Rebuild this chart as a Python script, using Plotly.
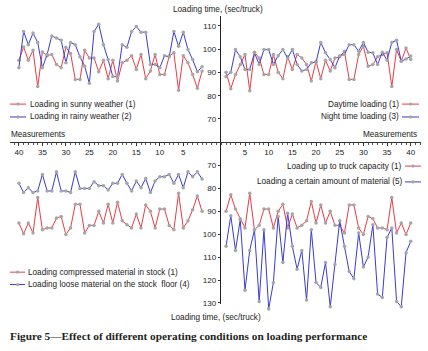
import plotly.graph_objects as go

W, H = 428, 351

# ---------------- data ----------------
measurements = list(range(1, 41))

sunny = [90.6, 83.2, 89.1, 94.1, 97.2, 82.3, 98.4, 97.0, 89.1, 89.1,
         97.7, 90.6, 87.3, 97.7, 91.3, 97.2, 95.2, 94.1, 86.3, 95.2,
         87.3, 95.2, 90.3, 96.2, 96.2, 99.5, 87.0, 87.0, 98.1, 100.8,
         92.0, 93.4, 97.7, 97.2, 98.8, 83.9, 99.5, 95.2, 100.9, 95.2]
rainy = [92.4, 90.3, 95.5, 99.8, 107.3, 101.2, 107.6, 96.7, 97.2, 92.0,
         93.4, 93.4, 107.3, 107.3, 109.7, 107.6, 100.8, 101.9, 88.2, 88.2,
         95.5, 101.9, 110.7, 107.6, 85.3, 92.7, 96.7, 101.9, 102.9, 94.1,
         103.8, 104.8, 105.7, 97.7, 92.0, 102.9, 106.9, 101.9, 107.6, 92.0]
daytime = [90.1, 83.0, 89.1, 93.4, 97.7, 82.1, 98.7, 96.2, 89.1, 89.1,
           97.7, 90.1, 87.3, 96.7, 91.3, 97.7, 96.2, 93.4, 86.3, 94.8,
           87.3, 95.2, 90.6, 96.2, 96.7, 99.1, 87.0, 87.0, 97.7, 101.2,
           92.7, 93.4, 96.7, 97.7, 98.4, 83.9, 99.8, 94.8, 100.5, 95.5]
night = [88.2, 90.1, 99.8, 96.7, 91.3, 91.3, 98.4, 93.4, 99.8, 99.8,
         93.4, 97.2, 99.8, 96.2, 99.8, 93.4, 90.6, 91.3, 94.1, 94.4,
         102.9, 98.4, 95.5, 92.0, 97.2, 97.7, 101.9, 101.9, 99.1, 102.9,
         98.7, 98.4, 93.4, 98.7, 95.2, 102.9, 103.8, 94.8, 95.8, 97.0]
compressed = [90.1, 83.4, 89.4, 94.2, 97.3, 82.2, 98.1, 96.2, 89.1, 89.1,
              97.3, 90.1, 87.3, 97.3, 91.3, 97.3, 95.9, 94.2, 86.1, 95.2,
              87.0, 95.2, 90.1, 96.2, 96.2, 99.5, 87.0, 87.0, 97.3, 100.2,
              92.3, 93.0, 97.3, 97.3, 98.1, 84.1, 99.5, 95.2, 99.9, 95.2]
loose = [76.0, 72.9, 75.0, 72.9, 79.8, 74.0, 77.9, 74.0, 75.0, 75.0,
         76.9, 81.9, 75.8, 79.8, 76.9, 81.2, 77.9, 74.0, 77.9, 77.9,
         80.8, 78.9, 78.9, 77.2, 80.1, 80.1, 80.1, 72.9, 81.9, 81.2,
         81.2, 72.9, 81.2, 81.2, 74.0, 81.2, 81.9, 79.8, 81.9, 77.9]
capacity = [90.1, 82.9, 89.1, 93.3, 97.3, 82.2, 98.1, 96.2, 89.1, 89.1,
            97.3, 90.1, 87.0, 97.3, 91.3, 97.3, 96.2, 94.2, 85.8, 95.2,
            87.3, 95.2, 90.1, 96.2, 96.2, 99.5, 87.3, 87.3, 97.3, 100.2,
            92.3, 93.3, 97.3, 97.3, 98.1, 84.1, 99.5, 95.2, 100.2, 95.2]
certain = [105.3, 92.0, 107.1, 93.7, 124.4, 107.1, 98.1, 129.3, 98.1, 132.6,
           121.1, 92.3, 112.4, 90.9, 105.3, 115.3, 107.1, 128.7, 98.1, 121.1,
           123.2, 112.4, 131.6, 113.2, 94.2, 105.3, 116.3, 119.4, 99.5, 114.3,
           110.0, 95.9, 126.1, 127.6, 101.4, 97.3, 129.3, 131.6, 108.1, 103.1]

x_ticks = [5, 10, 15, 20, 25, 30, 35, 40]
y_top_ticks = [70, 80, 90, 100, 110]
y_bot_ticks = [70, 80, 90, 100, 110, 120, 130]

names = {
    "sunny": "Loading in sunny weather (1)",
    "rainy": "Loading in rainy weather (2)",
    "daytime": "Daytime loading (1)",
    "night": "Night time loading (3)",
    "compressed": "Loading compressed material in stock (1)",
    "loose": "Loading loose material on the stock  floor (4)",
    "capacity": "Loading up to truck capacity (1)",
    "certain": "Loading a certain amount of material (5)",
}

RED = "#e63c46"
BLUE = "#3a3ad2"
MARK = "#a6a6a6"
TXT = "#222222"
FONT = "Liberation Sans, Arial, sans-serif"


def X(px):
    return px / W


def Y(py):
    return 1 - py / H


fig = go.Figure()


def add(yvals, color, name, xa, ya):
    fig.add_trace(go.Scatter(
        x=measurements, y=yvals, name=name, mode="lines+markers",
        xaxis=xa, yaxis=ya, showlegend=False,
        line=dict(color=color, width=1),
        marker=dict(color=MARK, size=3.5, line=dict(width=0)),
    ))


add(sunny, RED, names["sunny"], "x", "y")
add(rainy, BLUE, names["rainy"], "x", "y")
add(daytime, RED, names["daytime"], "x2", "y")
add(night, BLUE, names["night"], "x2", "y")
add(compressed, RED, names["compressed"], "x", "y2")
add(loose, BLUE, names["loose"], "x", "y2")
add(capacity, RED, names["capacity"], "x2", "y3")
add(certain, BLUE, names["certain"], "x2", "y3")

axis_px_x = 220.7
axis_px_y = 143.0

xcommon = dict(
    showline=True, linecolor="#333333", linewidth=1,
    showgrid=False, zeroline=False,
    tickmode="array", tickvals=x_ticks, ticktext=[str(v) for v in x_ticks],
    ticks="outside", ticklen=3, tickcolor="#333333", tickwidth=1,
    tickfont=dict(family=FONT, size=8, color=TXT),
    minor=dict(tickmode="linear", tick0=0, dtick=1, ticks="outside",
               ticklen=2, tickcolor="#555555", tickwidth=1),
)
ycommon = dict(
    showline=True, linecolor="#222222", linewidth=1,
    showgrid=False, zeroline=False,
    tickmode="array",
    ticks="outside", ticklen=2, tickcolor="#333333", tickwidth=1,
    tickfont=dict(family=FONT, size=8, color=TXT),
)

fig.update_layout(
    width=W, height=H,
    margin=dict(l=0, r=0, t=0, b=0),
    paper_bgcolor="white", plot_bgcolor="rgba(0,0,0,0)",
    showlegend=False,
    xaxis=dict(domain=[X(10), X(axis_px_x)], range=[41.9, -2.97],
               anchor="y", side="bottom", **xcommon),
    xaxis2=dict(domain=[X(axis_px_x), X(420.7)], range=[-0.13, 42.1],
                anchor="y", side="bottom", **xcommon),
    yaxis=dict(domain=[Y(axis_px_y), Y(16)], range=[60.2, 114.3],
               anchor="x2", side="left", tickvals=y_top_ticks, **ycommon),
    yaxis2=dict(domain=[Y(307), Y(axis_px_y)], range=[130.6, 59.8],
                anchor="x2", side="left", tickvals=y_bot_ticks, **ycommon),
    yaxis3=dict(domain=[Y(318), Y(axis_px_y)], range=[135.35, 59.8],
                anchor="x2", side="left", visible=False,
                showgrid=False, zeroline=False),
)

annotations = []
shapes = []


def txt(text, px, py, xanchor, size=8.2, font=FONT, bold=False, color=TXT):
    annotations.append(dict(
        text=("<b>%s</b>" % text) if bold else text,
        x=X(px), y=Y(py), xref="paper", yref="paper",
        xanchor=xanchor, yanchor="middle", showarrow=False,
        font=dict(family=font, size=size, color=color),
    ))


def glyph(x0, x1, py, color):
    shapes.append(dict(type="line", xref="paper", yref="paper",
                       x0=X(x0), x1=X(x1), y0=Y(py), y1=Y(py),
                       line=dict(color=color, width=1)))
    xm = (x0 + x1) / 2
    r = 1.4
    shapes.append(dict(type="circle", xref="paper", yref="paper",
                       x0=X(xm - r), x1=X(xm + r), y0=Y(py + r), y1=Y(py - r),
                       fillcolor=MARK, line=dict(color=MARK, width=0.5)))


# axis titles
txt("Loading time, (sec/truck)", 218, 10, "center")
txt("Loading time, (sec/truck)", 216, 320, "center")
txt("Measurements", 9, 136, "left")
txt("Measurements", 419, 136, "right")

# legends (top-left)
glyph(10, 26, 105, RED)
txt(names["sunny"], 28, 105, "left")
glyph(10, 26, 118, BLUE)
txt(names["rainy"], 28, 118, "left")
# legends (top-right)
txt(names["daytime"], 401, 105, "right")
glyph(402, 419, 105, RED)
txt(names["night"], 401, 118, "right")
glyph(402, 419, 118, BLUE)
# legends (bottom-left)
glyph(10, 25, 274.5, RED)
txt(names["compressed"], 25.5, 274.5, "left")
glyph(10, 25, 287, BLUE)
txt(names["loose"], 25.5, 287, "left")
# legends (bottom-right)
txt(names["capacity"], 404, 167.5, "right")
glyph(405, 421, 167.5, RED)
txt(names["certain"], 404, 183.5, "right")
glyph(405, 421, 183.5, BLUE)

# caption
txt("Figure 5\u2014Effect of different operating conditions on loading performance",
    8, 339, "left", size=11.3, font="Liberation Serif, Times New Roman, serif",
    bold=True, color="#231f20")

fig.update_layout(annotations=annotations, shapes=shapes)

fig.write_html(
    "out.html",
    config={"displayModeBar": False},
    post_script="document.body.style.margin='0';document.body.style.overflow='hidden';",
)
